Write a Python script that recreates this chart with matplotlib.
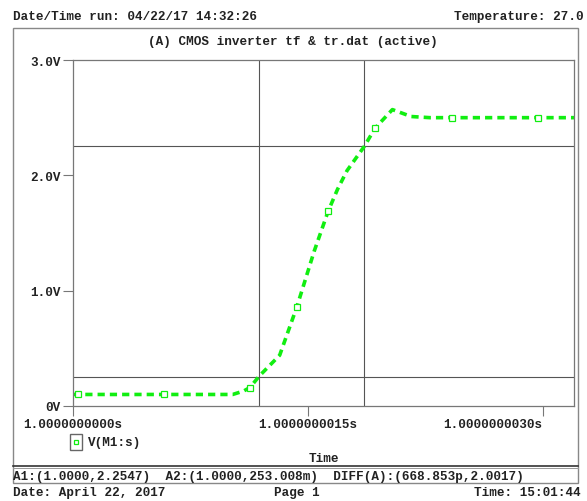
import numpy as np
import matplotlib
matplotlib.use('Agg')
import matplotlib.pyplot as plt
from matplotlib.lines import Line2D
from matplotlib.patches import Rectangle

# data (time in ns after 1 s, voltage in V)
t_ns = [0.0, 0.3, 5.8, 10.2, 10.9, 11.3, 11.9, 13.2, 14.3, 15.4, 16.3, 16.9,
        17.5, 18.6, 19.3, 20.4, 21.6, 22.8, 24.2, 29.7, 32.0]
v_ms = [0.10, 0.10, 0.10, 0.10, 0.13, 0.16, 0.26, 0.44, 0.86, 1.34, 1.69, 1.88,
        2.04, 2.25, 2.41, 2.57, 2.51, 2.50, 2.50, 2.50, 2.50]
marker_idx = [1, 2, 5, 8, 10, 14, 18, 19]

x_ticks = [0, 15, 30]
x_labels = ['1.0000000000s', '1.0000000015s', '1.0000000030s']
y_ticks = [0, 1, 2, 3]
y_labels = ['0V', '1.0V', '2.0V', '3.0V']

cursor_a1 = (18.6, 2.2547)
cursor_a2 = (11.9, 0.253008)

W, H = 587, 502
mono = 'Liberation Mono'
fs = 9.1
txt = '#222222'

fig = plt.figure(figsize=(W / 100, H / 100), dpi=100)
fig.patch.set_facecolor('white')


def fx(px):
    return px / W


def fy(py):
    return 1 - py / H


ax = fig.add_axes([fx(73), fy(407), fx(574) - fx(73), fy(61) - fy(407)])
ax.plot(t_ns, v_ms, color='#11ee11', lw=2.6, linestyle=(0, (2.0, 1.4)),
        marker='s', markevery=marker_idx, markersize=5, markerfacecolor='white',
        markeredgecolor='#11ee11', markeredgewidth=0.9)

# cursors
for xc in (cursor_a1[0], cursor_a2[0]):
    ax.axvline(xc, color='#555555', lw=0.8, zorder=1)
for yc in (cursor_a1[1], cursor_a2[1]):
    ax.axhline(yc, color='#555555', lw=0.8, zorder=1)

ax.set_xlim(0, 32)
ax.set_ylim(0, 3)
ax.set_xticks(x_ticks)
ax.set_xticklabels(x_labels)
ax.set_yticks(y_ticks)
ax.set_yticklabels(y_labels)
ax.tick_params(direction='out', length=7, width=0.8, color='#777777',
               labelsize=fs, labelcolor=txt, pad=2)
for lab in ax.get_xticklabels() + ax.get_yticklabels():
    lab.set_family(mono)
    lab.set_weight('bold')
ax.get_xticklabels()[-1].set_horizontalalignment('right')
for s in ax.spines.values():
    s.set_color('#777777')
    s.set_linewidth(0.9)

# outer frame
fig.add_artist(Rectangle((fx(13), fy(484)), fx(578) - fx(13), fy(29) - fy(484),
                         transform=fig.transFigure, fill=False,
                         edgecolor='#888888', lw=1.0))
fig.add_artist(Line2D([fx(13), fx(578)], [fy(467), fy(467)],
                      transform=fig.transFigure, color='#333333', lw=1.2))
fig.add_artist(Line2D([fx(13), fx(578)], [fy(469), fy(469)],
                      transform=fig.transFigure, color='#999999', lw=0.7))

# legend
fig.add_artist(Rectangle((fx(70), fy(451)), fx(82) - fx(70), fy(435) - fy(451),
                         transform=fig.transFigure, fill=False,
                         edgecolor='#666666', lw=1.0))
fig.add_artist(Line2D([fx(76)], [fy(443)], transform=fig.transFigure,
                      marker='s', markersize=3.5, markerfacecolor='white',
                      markeredgecolor='#11ee11', markeredgewidth=0.9))

kw = dict(family=mono, fontsize=fs, color=txt, weight='bold', va='center')
fig.text(fx(13), fy(17), 'Date/Time run: 04/22/17 14:32:26', ha='left', **kw)
fig.text(fx(584), fy(17), 'Temperature: 27.0', ha='right', **kw)
fig.text(fx(293), fy(42), '(A) CMOS inverter tf & tr.dat (active)', ha='center', **kw)
fig.text(fx(88), fy(443), 'V(M1:s)', ha='left', **kw)
fig.text(fx(324), fy(459), 'Time', ha='center', **kw)
fig.text(fx(13), fy(477),
         'A1:(1.0000,2.2547)  A2:(1.0000,253.008m)  DIFF(A):(668.853p,2.0017)',
         ha='left', **kw)
fig.text(fx(13), fy(493), 'Date: April 22, 2017', ha='left', **kw)
fig.text(fx(297), fy(493), 'Page 1', ha='center', **kw)
fig.text(fx(581), fy(493), 'Time: 15:01:44', ha='right', **kw)

fig.savefig('out.png', dpi=100)
